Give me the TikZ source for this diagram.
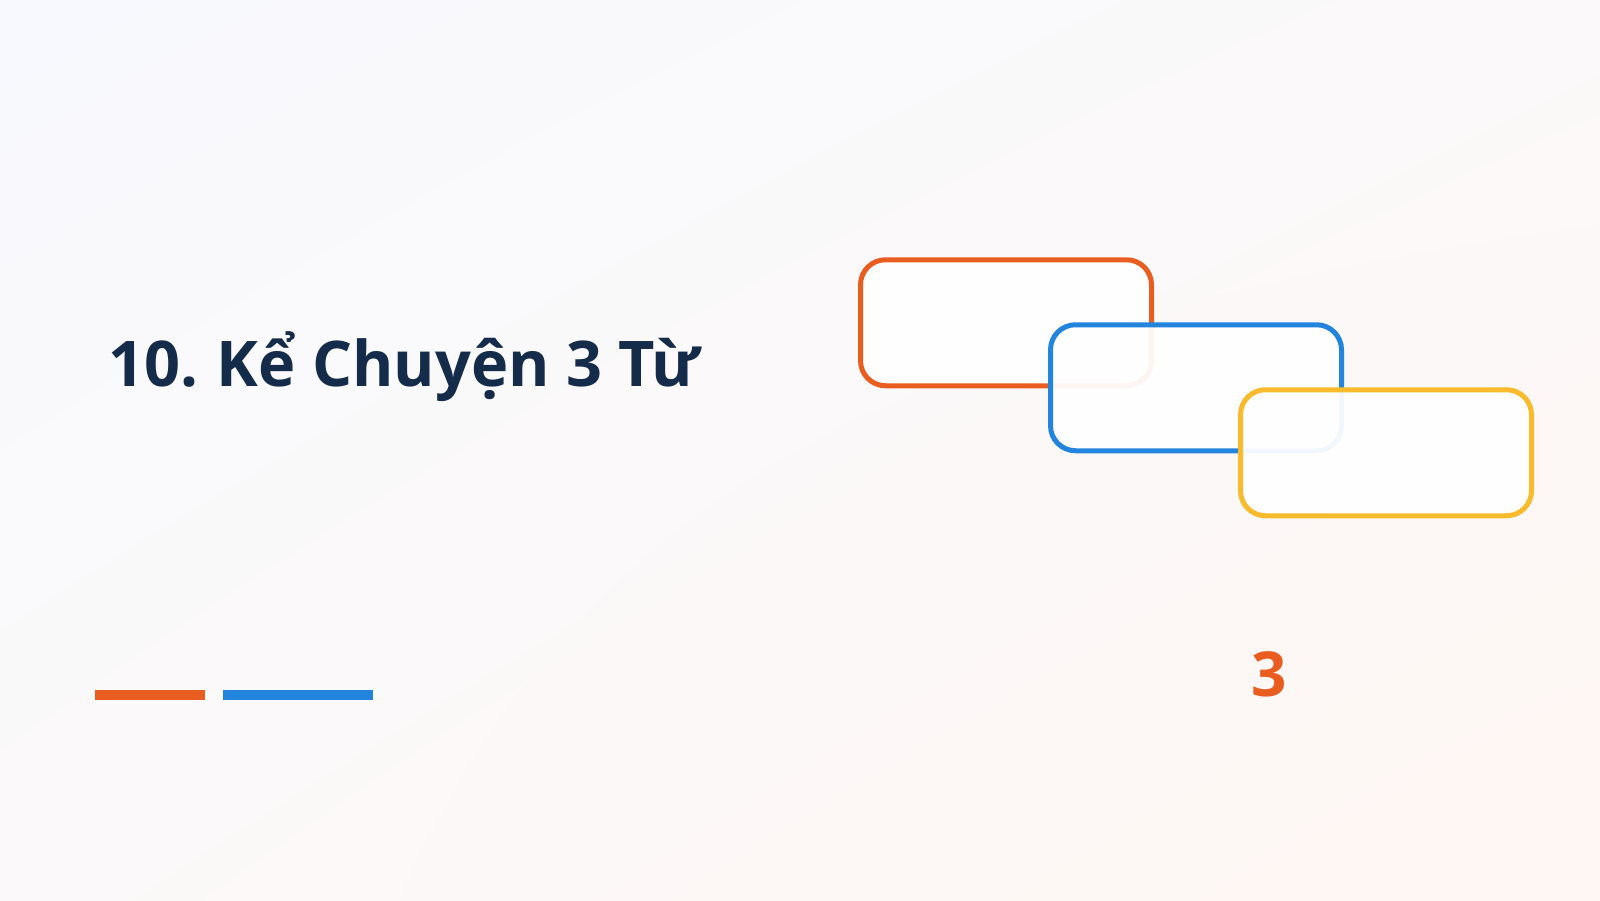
\documentclass[tikz,border=0pt]{standalone}
\usepackage{fontspec}
\setmainfont{Open Sans}
\usetikzlibrary{shadings}
\definecolor{navy}{HTML}{142B4A}
\definecolor{cOrange}{HTML}{E95E20}
\definecolor{cBlue}{HTML}{2384DD}
\definecolor{cYellow}{HTML}{F9BA2C}
\definecolor{bgTL}{HTML}{F8F9FE}
\definecolor{bgBR}{HTML}{FFF7F3}
\definecolor{bgMid}{HTML}{FBF9F9}
\tikzset{
  card/.style={draw=#1, line width=5pt, rounded corners=25pt, fill=white, fill opacity=0.94, draw opacity=1},
  bar/.style={fill=#1, draw=none},
}
\begin{document}
\begin{tikzpicture}[x=1pt,y=-1pt]
\useasboundingbox (0,0) rectangle (1600,900);
\shade[upper left=bgTL, upper right=bgMid, lower left=bgMid, lower right=bgBR] (0,0) rectangle (1600,900);
% title
\node[anchor=base west, inner sep=0pt, text=navy, font=\fontsize{63}{70}\selectfont\bfseries] (title) at (108,386) {10.\hspace{-3pt} Kể Chuyện 3 Từ};
% cards
\node[card=cOrange, minimum width=291pt, minimum height=126pt, inner sep=0pt] (c1) at (1006,322.75) {};
\node[card=cBlue, minimum width=291pt, minimum height=126pt, inner sep=0pt] (c2) at (1196,387.75) {};
\node[card=cYellow, minimum width=291pt, minimum height=126pt, inner sep=0pt] (c3) at (1386,452.75) {};
% bars
\fill[bar=cOrange] (95,690) rectangle (205,700);
\fill[bar=cBlue] (223,690) rectangle (373,700);
% number
\node[anchor=base, inner sep=0pt, text=cOrange, font=\fontsize{62}{66}\selectfont\bfseries] (num) at (1269,696) {3};
\end{tikzpicture}
\end{document}
